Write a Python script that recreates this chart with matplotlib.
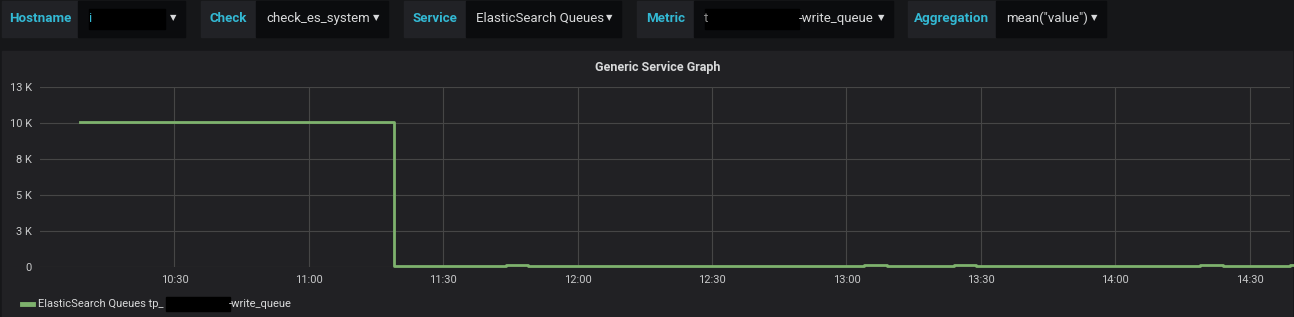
import matplotlib
matplotlib.use("Agg")
import matplotlib.pyplot as plt
import matplotlib.dates as mdates
import matplotlib.patches as ptch
import pandas as pd

plt.rcParams['font.family'] = ['Roboto', 'DejaVu Sans']

W, H = 1294, 317

# data (5 minute buckets, mean("value"))
times = pd.date_range('2019-01-01 10:09', '2019-01-01 14:44', freq='5min')
high_values = [10050] * 14
low_values = [70, 40, 80, 70, 70, 110, 60, 60, 70, 70, 50, 50, 90, 70, 60,
              60, 40, 100, 70, 90, 70, 110, 60, 60, 70, 110, 90, 40, 70, 80,
              80, 70, 70, 50, 50, 40, 110, 70, 60, 60, 110, 80]
values = (high_values + low_values)[:len(times)]

y_ticks = [0, 2500, 5000, 7500, 10000, 12500]
y_labels = ['0', '3 K', '5 K', '8 K', '10 K', '13 K']
series_name = 'ElasticSearch Queues tp_'
series_tail = '-write_queue'

# template variables: (label, value text, redacted box px or None, label x0, split x, x1)
variables = [
    ('Hostname', 'i', (89, 165), 2, 78, 185),
    ('Check', 'check_es_system', None, 201, 256, 388),
    ('Service', 'ElasticSearch Queues', None, 404, 466, 621),
    ('Metric', 't', (705, 799), 637, 694, 893),
    ('Aggregation', 'mean("value")', None, 908, 996, 1106),
]

BG = '#161719'
PANEL = '#212124'
TEXT = '#d8d9da'
CYAN = '#33b9d4'
GREEN = '#7eb26d'


def fx(px):
    return px / W


def fy(py):
    return 1 - py / H


fig = plt.figure(figsize=(W / 100, H / 100), dpi=100, facecolor=BG)

# top bar chips
for label, val, box, x0, xs, x1 in variables:
    fig.patches.append(ptch.Rectangle((fx(x0), fy(37)), fx(xs - x0), 36 / H,
                                      transform=fig.transFigure, color='#212226', zorder=-2))
    fig.patches.append(ptch.Rectangle((fx(xs), fy(37)), fx(x1 - xs), 36 / H,
                                      transform=fig.transFigure, color='#0b0c0e', zorder=-2))
    fig.text(fx((x0 + xs) / 2), fy(18.5), label, color=CYAN, fontsize=9.6,
             fontweight='bold', ha='center', va='center')
    if label == 'Metric':
        fig.text(fx(xs + 10), fy(18.5), val, color='#8e8e8e', fontsize=9.5, ha='left', va='center')
        fig.patches.append(ptch.Rectangle((fx(box[0]), fy(29)), fx(box[1] - box[0]), 20 / H,
                                          transform=fig.transFigure, color='black', zorder=2))
        fig.text(fx(box[1]), fy(18.5), '-write_queue', color=TEXT, fontsize=9.5,
                 ha='left', va='center')
    elif box is not None:
        fig.text(fx(xs + 10), fy(18.5), val, color=CYAN, fontsize=9.5, ha='left', va='center')
        fig.patches.append(ptch.Rectangle((fx(box[0]), fy(29)), fx(box[1] - box[0]), 20 / H,
                                          transform=fig.transFigure, color='black', zorder=2))
    else:
        fig.text(fx(xs + 10), fy(18.5), val, color=TEXT, fontsize=9.5, ha='left', va='center')
    fig.text(fx(x1 - 12), fy(17.5), '\u25bc', color=TEXT, fontsize=6, ha='center', va='center',
             family='DejaVu Sans')

# panel
fig.patches.append(ptch.Rectangle((fx(2), 0), fx(1290), fy(51), transform=fig.transFigure,
                                  color=PANEL, zorder=-2))
fig.text(fx(658), fy(67), 'Generic Service Graph', color=TEXT, fontsize=9,
         fontweight='bold', ha='center', va='center')

ax = fig.add_axes([fx(40), fy(267), fx(1250), (267 - 87) / H])
ax.set_zorder(5)
ax.patch.set_alpha(0)
ax.plot(times, values, drawstyle='steps-post', color=GREEN, linewidth=2, clip_on=False)
ax.set_xlim(pd.Timestamp('2019-01-01 10:00'), pd.Timestamp('2019-01-01 14:39'))
ax.set_ylim(0, 12500)
ax.set_yticks(y_ticks)
ax.set_yticklabels(y_labels)
x_ticks = pd.date_range('2019-01-01 10:30', '2019-01-01 14:30', freq='30min')
ax.set_xticks(x_ticks)
ax.xaxis.set_major_formatter(mdates.DateFormatter('%H:%M'))
ax.grid(True, color='#464646', linewidth=0.8)
ax.set_axisbelow(True)
ax.tick_params(length=0, colors='#c8c9ca', labelsize=8, pad=6)
for s in ax.spines.values():
    s.set_visible(False)

# legend
fig.lines.append(plt.Line2D([fx(22), fx(33)], [fy(304), fy(304)], transform=fig.transFigure,
                            color=GREEN, linewidth=3.5))
fig.text(fx(38), fy(304), series_name, color=TEXT, fontsize=8, ha='left', va='center')
fig.patches.append(ptch.Rectangle((fx(166), fy(311)), fx(64), 14 / H, transform=fig.transFigure,
                                  color='black', zorder=2))
fig.text(fx(229), fy(304), series_tail, color=TEXT, fontsize=8, ha='left', va='center')

fig.savefig('out.png', dpi=100, facecolor=BG)
